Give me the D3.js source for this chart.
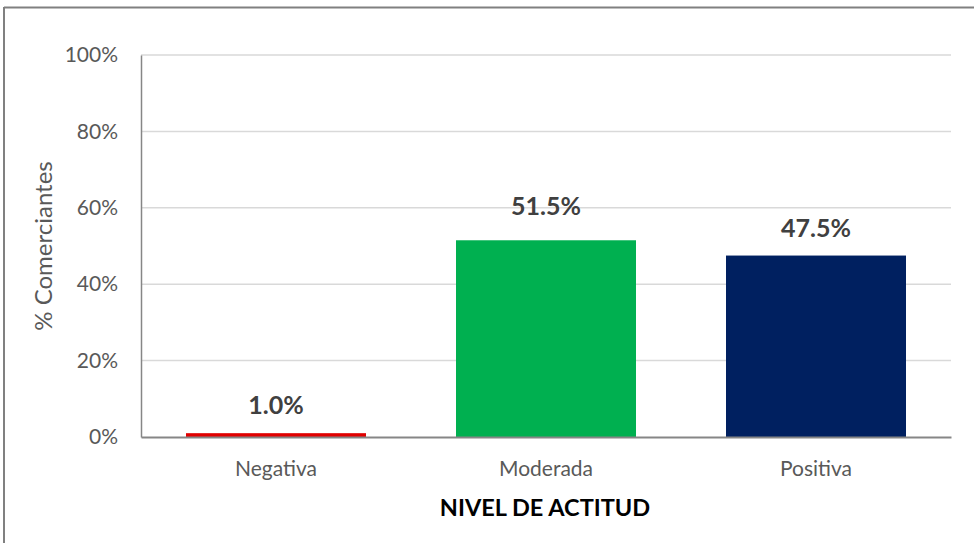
<!DOCTYPE html>
<html><head><meta charset="utf-8">
<script src="https://cdn.jsdelivr.net/npm/d3@7/dist/d3.min.js"></script>
<style>body{margin:0;background:#fff}svg{display:block}</style>
</head><body>
<script>
const categories = ["Negativa", "Moderada", "Positiva"];
const values = [1.0, 51.5, 47.5];
const colors = ["#e00000", "#00b050", "#002060"];
const yTicks = [0, 20, 40, 60, 80, 100];
const yTitle = "% Comerciantes";
const xTitle = "NIVEL DE ACTITUD";

const W = 974, H = 543;
const font = "Lato, 'Open Sans', sans-serif";
const svg = d3.select("body").append("svg").attr("width", W).attr("height", H);

// frame (top and left visible)
svg.append("line").attr("x1", 4).attr("x2", W).attr("y1", 7.5).attr("y2", 7.5).attr("stroke", "#808080").attr("stroke-width", 2);
svg.append("line").attr("x1", 4).attr("x2", 4).attr("y1", 7).attr("y2", H).attr("stroke", "#808080").attr("stroke-width", 2);

const x0 = 141, x1 = 951, yTop = 55, yBot = 437;
const x = d3.scaleBand().domain(categories).range([x0, x1]).paddingInner(1/3).paddingOuter(1/6);
const y = d3.scaleLinear().domain([0, 100]).range([yBot, yTop]);

// gridlines
svg.append("g").selectAll("line").data(yTicks.filter(t => t > 0)).join("line")
  .attr("x1", x0).attr("x2", x1).attr("y1", d => y(d)).attr("y2", d => y(d))
  .attr("stroke", "#d9d9d9").attr("stroke-width", 1.5);

// y axis
const yAxis = svg.append("g").attr("transform", `translate(${x0},0)`)
  .call(d3.axisLeft(y).tickValues(yTicks).tickFormat(d => d + "%").tickSize(0).tickPadding(23));
yAxis.select(".domain").attr("stroke", "#868686").attr("stroke-width", 1.5);
yAxis.selectAll("text").attr("font-family", font).attr("font-size", 21).attr("fill", "#595959");

// bars
svg.append("g").selectAll("rect").data(values).join("rect")
  .attr("x", (d, i) => x(categories[i])).attr("width", x.bandwidth())
  .attr("y", d => y(d)).attr("height", d => y(0) - y(d))
  .attr("fill", (d, i) => colors[i]);

// x axis
const xAxis = svg.append("g").attr("transform", `translate(0,${yBot})`)
  .call(d3.axisBottom(x).tickSize(0).tickPadding(24));
xAxis.select(".domain").attr("stroke", "#868686").attr("stroke-width", 2);
xAxis.selectAll("text").attr("font-family", font).attr("font-size", 21).attr("fill", "#595959");

// value labels (the middle label sits slightly higher in the original)
svg.append("g").selectAll("text").data(values).join("text")
  .attr("x", (d, i) => x(categories[i]) + x.bandwidth() / 2)
  .attr("y", (d, i) => y(d) - (i === 1 ? 25 : 19))
  .attr("text-anchor", "middle")
  .attr("font-family", font).attr("font-size", 25).attr("font-weight", "bold").attr("fill", "#404040")
  .text(d => d.toFixed(1) + "%");

// titles
svg.append("text").attr("x", 545).attr("y", 516).attr("text-anchor", "middle")
  .attr("font-family", font).attr("font-size", 23.5).attr("font-weight", "bold").attr("fill", "#000")
  .text(xTitle);
svg.append("text").attr("transform", `translate(52,246) rotate(-90)`)
  .attr("text-anchor", "middle")
  .attr("font-family", font).attr("font-size", 24).attr("fill", "#595959")
  .text(yTitle);
</script>
</body></html>
